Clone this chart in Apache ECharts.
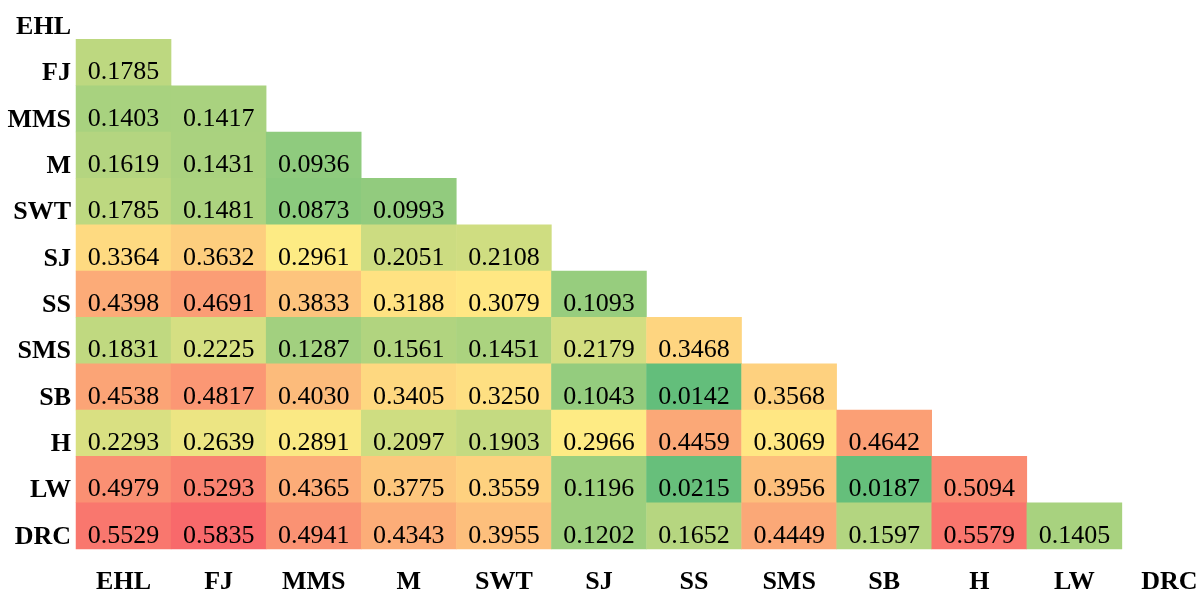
<!DOCTYPE html>
<html>
<head>
<meta charset="utf-8">
<script src="https://cdn.jsdelivr.net/npm/echarts@6/dist/echarts.min.js"></script>
<style>
  html, body { margin: 0; padding: 0; background: #fff; }
  #main { width: 1201px; height: 590px; }
</style>
</head>
<body>
<div id="main"></div>
<script>
let names = ['EHL', 'FJ', 'MMS', 'M', 'SWT', 'SJ', 'SS', 'SMS', 'SB', 'H', 'LW', 'DRC'];

// lower triangle, row i holds values against columns 0..i-1
let rowFJ = [0.1785];
let rowMMS = [0.1403, 0.1417];
let rowM = [0.1619, 0.1431, 0.0936];
let rowSWT = [0.1785, 0.1481, 0.0873, 0.0993];
let rowSJ = [0.3364, 0.3632, 0.2961, 0.2051, 0.2108];
let rowSS = [0.4398, 0.4691, 0.3833, 0.3188, 0.3079, 0.1093];
let rowSMS = [0.1831, 0.2225, 0.1287, 0.1561, 0.1451, 0.2179, 0.3468];
let rowSB = [0.4538, 0.4817, 0.4030, 0.3405, 0.3250, 0.1043, 0.0142, 0.3568];
let rowH = [0.2293, 0.2639, 0.2891, 0.2097, 0.1903, 0.2966, 0.4459, 0.3069, 0.4642];
let rowLW = [0.4979, 0.5293, 0.4365, 0.3775, 0.3559, 0.1196, 0.0215, 0.3956, 0.0187, 0.5094];
let rowDRC = [0.5529, 0.5835, 0.4941, 0.4343, 0.3955, 0.1202, 0.1652, 0.4449, 0.1597, 0.5579, 0.1405];

let rows = [[], rowFJ, rowMMS, rowM, rowSWT, rowSJ, rowSS, rowSMS, rowSB, rowH, rowLW, rowDRC];

let cells = [];
rows.forEach((row, y) => {
    row.forEach((v, x) => cells.push([x, y, v]));
});

let chart = echarts.init(document.getElementById('main'));
let font = '"Liberation Serif", "Times New Roman", serif';

chart.setOption({
    backgroundColor: '#fff',
    animation: false,
    grid: {
        left: 76,
        top: -7,
        width: 1141,
        height: 556,
        containLabel: false,
        outerBoundsMode: 'none'
    },
    xAxis: {
        type: 'category',
        data: names,
        axisLine: { show: false },
        axisTick: { show: false },
        splitLine: { show: false },
        axisLabel: {
            margin: 20,
            color: '#000',
            fontFamily: font,
            fontWeight: 'bold',
            fontSize: 26
        }
    },
    yAxis: {
        type: 'category',
        data: names,
        inverse: true,
        axisLine: { show: false },
        axisTick: { show: false },
        splitLine: { show: false },
        axisLabel: {
            margin: 5,
            verticalAlign: 'top',
            lineHeight: 22,
            color: '#000',
            fontFamily: font,
            fontWeight: 'bold',
            fontSize: 26
        }
    },
    visualMap: {
        show: false,
        type: 'continuous',
        min: 0.0142,
        max: 0.5835,
        dimension: 2,
        inRange: {
            color: ['#63BE7B', '#FFEB84', '#F8696B']
        }
    },
    series: [{
        type: 'heatmap',
        data: cells,
        label: {
            show: true,
            color: '#000',
            fontFamily: font,
            fontSize: 26,
            offset: [0, 10],
            formatter: p => p.value[2].toFixed(4)
        },
        itemStyle: { borderWidth: 0 },
        emphasis: { disabled: true }
    }]
});
</script>
</body>
</html>
